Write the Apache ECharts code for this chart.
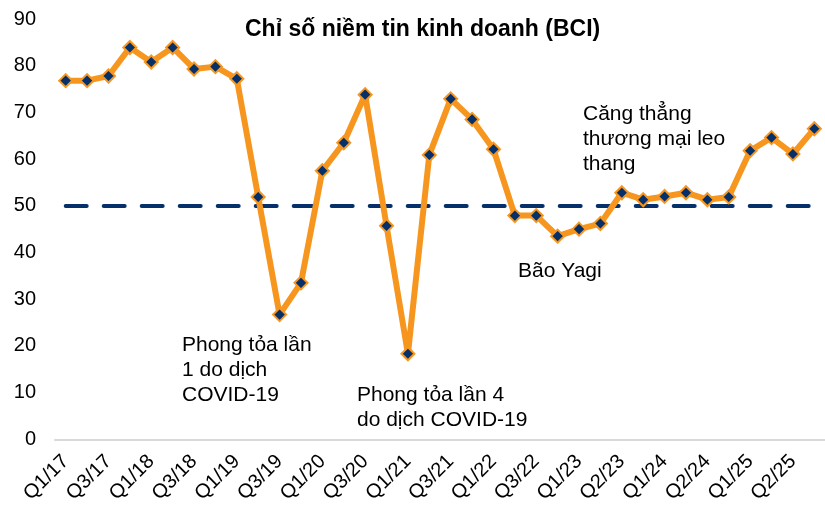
<!DOCTYPE html>
<html>
<head>
<meta charset="utf-8">
<script src="https://cdn.jsdelivr.net/npm/echarts@6/dist/echarts.min.js"></script>
<style>
html,body{margin:0;padding:0;background:#fff;}
#chart{width:825px;height:506px;}
</style>
</head>
<body>
<div id="chart"></div>
<script>
var categories = [
  "Q1/17","Q2/17","Q3/17","Q4/17","Q1/18","Q2/18","Q3/18","Q4/18",
  "Q1/19","Q2/19","Q3/19","Q4/19","Q1/20","Q2/20","Q3/20","Q4/20",
  "Q1/21","Q2/21","Q3/21","Q4/21","Q1/22","Q2/22","Q3/22","Q4/22",
  "Q1/23","Q1/23 b","Q2/23","Q2/23 b","Q1/24","Q1/24 b","Q2/24","Q2/24 b",
  "Q1/25","Q1/25 b","Q2/25","Q2/25 b"
];
var bciValues = [
  76.8, 76.8, 77.8, 83.9, 80.8, 83.9, 79.3, 79.8,
  77.2, 51.9, 26.7, 33.5, 57.5, 63.5, 73.8, 45.7,
  18.3, 60.9, 72.9, 68.5, 62.1, 47.9, 47.9, 43.5,
  45.0, 46.2, 52.8, 51.3, 52.0, 52.8, 51.3, 51.9,
  61.8, 64.6, 61.1, 66.5
];
var thresholdValue = 50;
var yTicks = { min: 0, max: 90, interval: 10 };
var titleText = "Chỉ số niềm tin kinh doanh (BCI)";
var annotations = [
  { text: "Phong tỏa lần\n1 do dịch\nCOVID-19", left: 182, top: 333 },
  { text: "Phong tỏa lần 4\ndo dịch COVID-19", left: 357, top: 383 },
  { text: "Bão Yagi", left: 518, top: 259 },
  { text: "Căng thẳng\nthương mại leo\nthang", left: 583, top: 102 }
];

var FONT = "'Liberation Sans', Arial, sans-serif";
var chart = echarts.init(document.getElementById('chart'), null, { renderer: 'canvas' });

var option = {
  backgroundColor: '#ffffff',
  animation: false,
  title: {
    text: titleText,
    left: 240, top: 13,
    textStyle: { fontFamily: FONT, fontSize: 23, fontWeight: 'bold', color: '#000' }
  },
  grid: { left: 55, top: 19, height: 422, width: 776, containLabel: false },
  xAxis: {
    type: 'category',
    data: categories,
    boundaryGap: true,
    axisLine: { show: true, lineStyle: { color: '#d9d9d9', width: 2 } },
    axisTick: { show: false },
    axisLabel: {
      interval: 1, rotate: 45, margin: 19,
      fontFamily: FONT, fontSize: 20, color: '#000'
    },
    splitLine: { show: false }
  },
  yAxis: {
    type: 'value',
    min: yTicks.min, max: yTicks.max, interval: yTicks.interval,
    axisLine: { show: false },
    axisTick: { show: false },
    splitLine: { show: false },
    axisLabel: { margin: 19, fontFamily: FONT, fontSize: 20, color: '#000' }
  },
  series: [{
    type: 'line',
    data: bciValues,
    symbol: 'diamond',
    symbolSize: 13,
    lineStyle: { color: '#F7961E', width: 6 },
    itemStyle: { color: '#06306A', borderColor: '#F7961E', borderWidth: 2 },
    z: 3,
    markLine: {
      silent: true,
      symbol: ['none', 'none'],
      label: { show: false },
      lineStyle: { color: '#06306A', width: 4, type: [21, 17], cap: 'round' },
      data: [[
        { coord: [categories[0], thresholdValue] },
        { coord: [categories[categories.length - 1], thresholdValue] }
      ]],
      z: 2
    }
  }],
  graphic: annotations.map(function (a) {
    return {
      type: 'text', left: a.left, top: a.top, z: 10,
      style: { text: a.text, font: "21px " + FONT, fill: '#000', lineHeight: 25 }
    };
  })
};
chart.setOption(option);
</script>
</body>
</html>
